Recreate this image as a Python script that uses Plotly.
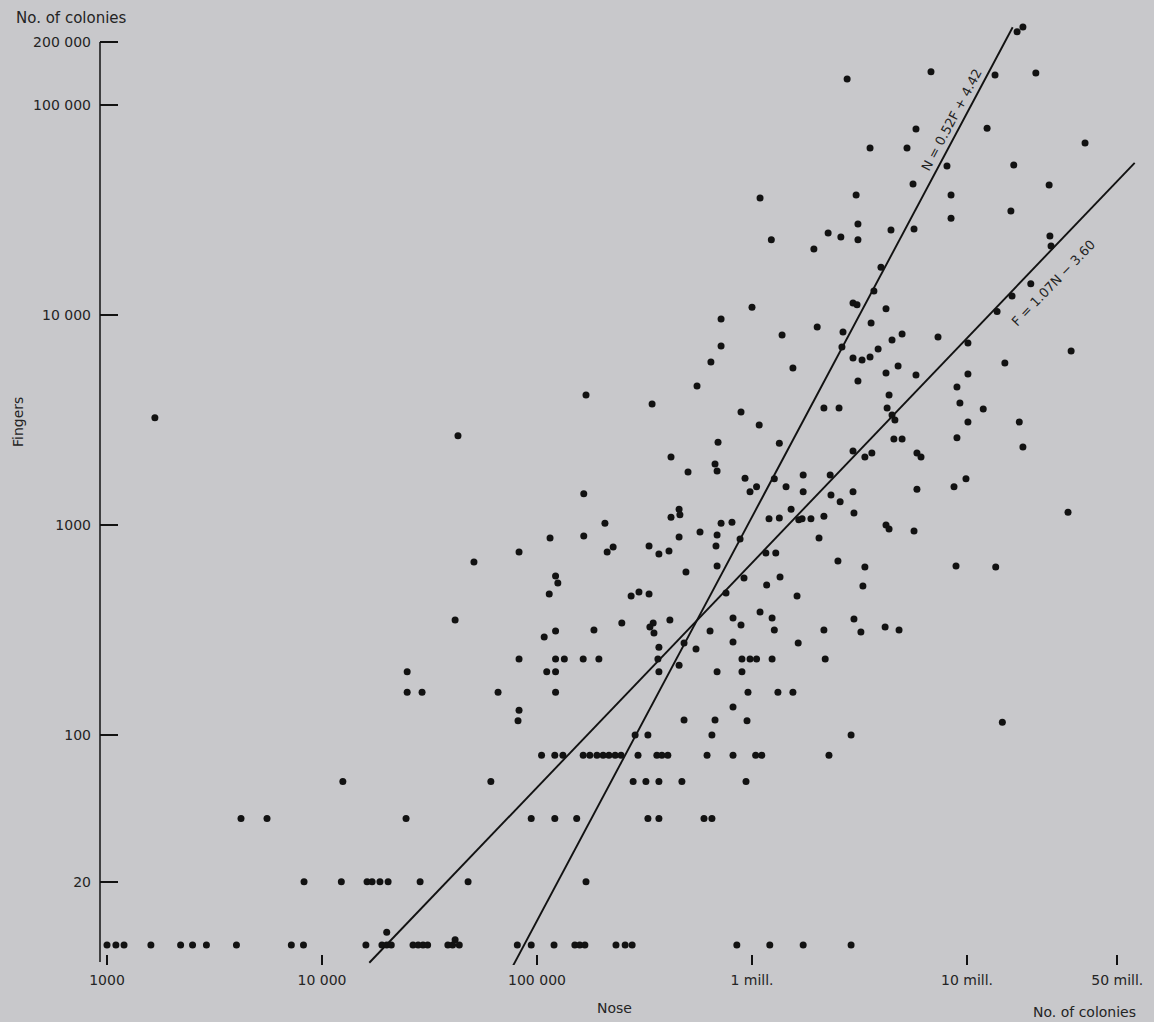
import numpy as np
import plotly.graph_objects as go

# ---- colony counts: nose (N) against fingers (F) ----
# rows of samples that share the same finger count
row10_nose = [1000, 1100, 1200, 1600, 2200, 2500, 2900, 4000, 7200, 8200, 16000, 19000,
              20000, 21000, 26500, 28000, 29500, 31000, 38500, 40500, 43500, 81000, 94000,
              120000, 150000, 158000, 167000, 233000, 257000, 277000, 850000, 1210000,
              1730000, 2890000]
row20_nose = [8250, 12300, 16200, 17100, 18600, 20300, 28600, 47800, 169000]
row40_nose = [4200, 5550, 24600, 94000, 121000, 153000, 328000, 369000, 598000, 651000]
row60_nose = [12500, 61000, 280000, 321000, 369000, 472000, 938000]
row80_nose = [105000, 121000, 132000, 164000, 176000, 190000, 203000, 216000, 231000,
              246000, 295000, 361000, 381000, 406000, 618000, 816000, 1040000, 1110000,
              2280000]
row100_nose = [286000, 328000, 651000, 2890000]
row160_nose = [24900, 29200, 65900, 122000, 958000, 1320000, 1550000]
row200_nose = [24900, 111000, 122000, 369000, 688000, 898000]
row230_nose = [82500, 122000, 134000, 164000, 194000, 365000, 898000, 979000, 1050000,
               1240000, 2190000]

# remaining samples as (nose, fingers) pairs
other_nose = [
    20000, 41600, 1670, 169000, 42900, 165000, 207000, 165000, 115000, 82500, 212000, 226000,
    50900, 122000, 125000, 114000, 41600, 122000, 108000, 184000, 82500, 81600,
    1000000, 718000, 1380000, 718000, 1550000, 644000, 555000, 343000, 889000, 1080000,
    695000, 1340000, 420000, 504000, 673000, 688000, 928000, 1050000, 979000, 1270000,
    1440000, 1520000, 1200000, 1340000, 1650000, 458000, 462000, 420000, 718000, 807000,
    573000, 458000, 688000, 680000, 880000, 332000, 369000, 411000, 1160000, 1290000,
    688000, 493000, 918000, 1350000, 1170000, 274000, 298000, 332000, 757000, 1620000,
    248000, 347000, 335000, 350000, 415000, 638000, 816000, 889000, 1090000, 1240000,
    1270000, 1640000, 369000, 483000, 549000, 458000, 816000, 816000, 483000, 673000, 948000,
    1090000, 1230000,
    2770000, 6800000, 13500000, 5790000, 12400000, 3540000, 5260000, 8070000, 5610000,
    3050000, 8430000, 8430000, 3110000, 2260000, 2590000, 3110000, 4430000, 5670000,
    1940000, 3980000, 3690000, 2950000, 3080000, 4200000, 3580000, 2010000, 13800000,
    2650000, 4480000, 4990000, 7330000, 10100000, 2620000, 3860000, 2950000, 3250000,
    3540000, 4780000, 4200000, 3110000, 5790000, 10100000, 8980000, 4340000, 9270000,
    2160000, 2540000, 4250000, 4480000, 4620000, 11900000, 10100000, 4570000, 4990000,
    8980000, 5850000, 6110000, 2950000, 3350000, 3610000, 2310000, 1730000, 9890000,
    8700000, 1730000, 2950000, 5850000, 2330000, 2570000, 2980000, 1710000, 1880000,
    2160000, 4200000, 4340000, 5670000, 2050000, 2510000, 3350000, 8890000, 13600000,
    3280000, 2980000, 2160000, 3210000, 4160000, 4830000,
    17100000, 18200000, 20900000, 35400000, 16500000, 24100000, 16000000, 24300000,
    24600000, 19800000, 16200000, 30500000, 15000000,
    17500000, 18200000, 29500000, 14600000,
]
other_fingers = [
    11.5, 10.6, 3240, 4160, 2660, 1410, 1020, 887, 867, 744, 744, 785,
    667, 572, 529, 469, 353, 313, 293, 316, 131, 117,
    10900, 9570, 8030, 7110, 5600, 5970, 4590, 3770, 3450, 2990,
    2480, 2450, 2110, 1790, 1950, 1810, 1670, 1520, 1440, 1660,
    1520, 1190, 1070, 1080, 1060, 1190, 1120, 1090, 1020, 1030,
    927, 877, 896, 794, 858, 794, 727, 751, 736, 736,
    638, 597, 559, 565, 518, 459, 480, 469, 474, 459,
    341, 341, 327, 306, 353, 313, 361, 334, 385, 361,
    316, 274, 262, 274, 257, 215, 277, 136, 118, 118, 117,
    36100, 22800,
    133000, 144000, 139000, 76900, 77600, 62400, 62400, 51300, 42100,
    37300, 37300, 28900, 27100, 24600, 23500, 22800, 25400, 25700,
    20600, 16900, 13000, 11400, 11200, 10700, 9160, 8770, 10400,
    8300, 7600, 8130, 7850, 7360, 7050, 6890, 6240, 6100,
    6310, 5720, 5300, 4850, 5180, 5240, 4540, 4160, 3810,
    3610, 3610, 3610, 3340, 3160, 3570, 3090, 2570, 2570,
    2600, 2200, 2110, 2250, 2110, 2200, 1730, 1730, 1660,
    1520, 1440, 1440, 1480, 1390, 1290, 1140, 1070, 1070,
    1100, 1000, 957, 936, 867, 674, 631, 638, 631,
    513, 357, 316, 309, 327, 316,
    223000, 235000, 142000, 65900, 51800, 41600, 31300, 23800,
    21300, 14100, 12300, 6740, 5910,
    3090, 2350, 1150, 115,
]

# regression lines in log10 units
line_n_on_f = (0.52, 4.42)    # log N = 0.52 log F + 4.42
line_f_on_n = (1.07, -3.60)   # log F = 1.07 log N - 3.60

x_ticks = [1e3, 1e4, 1e5, 1e6, 1e7, 5e7]
x_tick_text = ["1000", "10 000", "100 000", "1 mill.", "10 mill.", "50 mill."]
y_ticks = [20, 100, 1e3, 1e4, 1e5, 2e5]
y_tick_text = ["20", "100", "1000", "10 000", "100 000", "200 000"]

rows = [(10, row10_nose), (20, row20_nose), (40, row40_nose), (60, row60_nose),
        (80, row80_nose), (100, row100_nose), (160, row160_nose), (200, row200_nose),
        (230, row230_nose)]
nose = list(other_nose)
fingers = list(other_fingers)
for f_val, n_list in rows:
    nose += n_list
    fingers += [f_val] * len(n_list)

INK = "#121212"
TEXT = "#242424"
PAPER = "#c8c8cb"
FONT = "DejaVu Sans"

fig = go.Figure()

# fitted lines
logf = np.array([0.88, 5.37])
a, b = line_n_on_f
fig.add_trace(go.Scatter(x=10 ** (a * logf + b), y=10 ** logf, mode="lines",
                         line=dict(color=INK, width=1.9), hoverinfo="skip"))
logn = np.array([4.22, 7.78])
a, b = line_f_on_n
fig.add_trace(go.Scatter(x=10 ** logn, y=10 ** (a * logn + b), mode="lines",
                         line=dict(color=INK, width=1.9), hoverinfo="skip"))

fig.add_trace(go.Scatter(x=nose, y=fingers, mode="markers",
                         marker=dict(color=INK, size=7, line=dict(width=0))))

L, R, T, B = 100, 4, 20, 57
W, H = 1154, 1022
x_range = [6 + (100 - 752) / 215, 6 + (1150 - 752) / 215]
y_range = [2 - (965 - 735) / 210, 2 + (735 - 20) / 210]

fig.update_layout(
    width=W, height=H,
    margin=dict(l=L, r=R, t=T, b=B, pad=0),
    paper_bgcolor=PAPER, plot_bgcolor=PAPER,
    showlegend=False,
    font=dict(family=FONT, size=14, color=TEXT),
    xaxis=dict(type="log", range=x_range, showgrid=False, zeroline=False,
               showline=False, tickvals=x_ticks, ticktext=x_tick_text,
               ticks="inside", ticklen=10, tickwidth=1.5, tickcolor=INK,
               ticklabelstandoff=5, tickfont=dict(size=14, color=TEXT)),
    yaxis=dict(type="log", range=y_range, showgrid=False, zeroline=False,
               showline=False, tickvals=y_ticks, ticktext=y_tick_text,
               ticks="inside", ticklen=18, tickwidth=1.5, tickcolor=INK,
               ticklabelstandoff=8, tickfont=dict(size=14, color=TEXT)),
)

# left axis line from the top tick downwards
def py(p):
    return (965 - p) / 945

fig.add_shape(type="line", xref="paper", yref="paper", x0=0, x1=0,
              y0=py(962), y1=py(42), line=dict(color=INK, width=1.5))

def px(p):
    return (p - 100) / 1050

fig.add_annotation(text="No. of colonies", xref="paper", yref="paper",
                   x=px(14), y=py(18), xanchor="left", yanchor="middle",
                   showarrow=False, font=dict(size=15, color=TEXT))
fig.add_annotation(text="Fingers", xref="paper", yref="paper",
                   x=px(18), y=py(422), textangle=-90, xanchor="center", yanchor="middle",
                   showarrow=False, font=dict(size=14, color=TEXT))
fig.add_annotation(text="Nose", xref="paper", yref="paper",
                   x=px(614), y=py(1008), xanchor="center", yanchor="middle",
                   showarrow=False, font=dict(size=14, color=TEXT))
fig.add_annotation(text="No. of colonies", xref="paper", yref="paper",
                   x=px(1084), y=py(1012), xanchor="center", yanchor="middle",
                   showarrow=False, font=dict(size=14, color=TEXT))

# equation labels along the lines (annotation coordinates are log10 on log axes)
fig.add_annotation(text="N = 0.52F + 4.42", x=6.93, y=4.93, xref="x", yref="y",
                   textangle=-62, showarrow=False, font=dict(size=13, color=TEXT))
fig.add_annotation(text="F = 1.07N − 3.60", x=7.40, y=4.15, xref="x", yref="y",
                   textangle=-46, showarrow=False, font=dict(size=13, color=TEXT))

fig.write_html("out.html")
